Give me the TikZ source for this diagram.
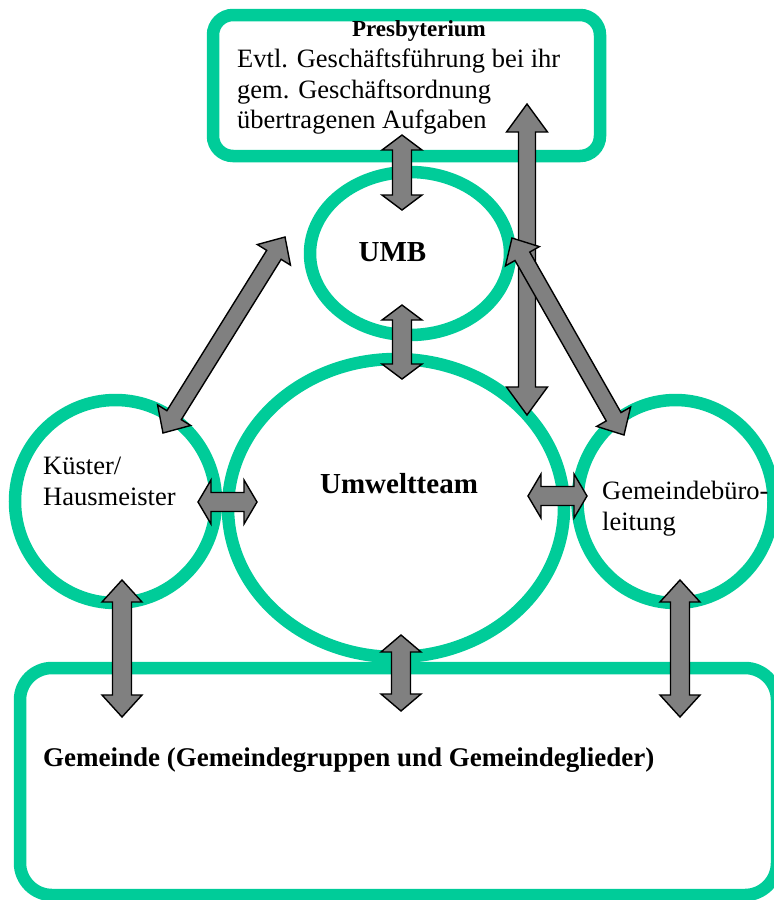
\documentclass[tikz,border=0pt]{standalone}
\usepackage{fontspec}
\setmainfont{Liberation Serif}
\usetikzlibrary{calc,shapes.geometric}
\definecolor{teamgreen}{RGB}{0,204,153}
\definecolor{arrgray}{RGB}{128,128,128}
\tikzset{
  greenline/.style={draw=teamgreen, line width=12.5pt},
  circ/.style={greenline, ellipse, inner sep=0pt, outer sep=0pt},
  roundbox/.style={greenline, rectangle, inner sep=0pt, outer sep=0pt},
  blockarrow/.style={fill=arrgray, draw=black, line width=1.4pt, line join=miter},
  txt/.style={inner sep=0pt, font=\fontsize{26.5}{30.5}\selectfont},
  btxt/.style={inner sep=0pt, font=\bfseries\fontsize{29}{33}\selectfont},
  ttxt/.style={inner sep=0pt, font=\bfseries\fontsize{23}{27}\selectfont},
  gtxt/.style={inner sep=0pt, font=\bfseries\fontsize{27}{31}\selectfont},
}
% #1 start, #2 end, #3 half shaft, #4 half head, #5 head length
\newcommand{\blockarr}[5]{%
  \draw[blockarrow]
    (#1)
    -- ($($(#1)!#5!(#2)$)!#4!90:(#2)$)
    -- ($($(#1)!#5!(#2)$)!#3!90:(#2)$)
    -- ($($(#2)!#5!(#1)$)!#3!-90:(#1)$)
    -- ($($(#2)!#5!(#1)$)!#4!-90:(#1)$)
    -- (#2)
    -- ($($(#2)!#5!(#1)$)!#4!90:(#1)$)
    -- ($($(#2)!#5!(#1)$)!#3!90:(#1)$)
    -- ($($(#1)!#5!(#2)$)!#3!-90:(#2)$)
    -- ($($(#1)!#5!(#2)$)!#4!-90:(#2)$)
    -- cycle;}
\begin{document}
\begin{tikzpicture}[x=1pt,y=-1pt]
\useasboundingbox (0,0) rectangle (774,900);
\clip (0,0) rectangle (774,900);

% green shapes
\node[roundbox, rounded corners=20pt, minimum width=387pt, minimum height=141pt] (presb) at (406.5,85.5) {};
\node[roundbox, rounded corners=32pt, minimum width=757pt, minimum height=227pt] (gem) at (398.5,781.5) {};
\node[circ, minimum width=200pt, minimum height=163pt] (umb) at (410,253.5) {};
\node[circ, minimum width=336pt, minimum height=298pt] (team) at (396,508) {};
\node[circ, minimum width=201pt, minimum height=203pt] (kuester) at (115.5,501.5) {};
\node[circ, minimum width=196pt, minimum height=203pt] (buero) at (675.5,501.5) {};

% texts
\node[ttxt, anchor=base] (presbtitle) at (419,36.7) {Presbyterium};
\node[txt, anchor=base west] (presbl1) at (237,67.3) {Evtl. Geschäftsführung bei ihr};
\node[txt, anchor=base west] (presbl2) at (237,98) {gem. Geschäftsordnung};
\node[txt, anchor=base west] (presbl3) at (237,128.5) {übertragenen Aufgaben};
\node[btxt, anchor=base] (umbtext) at (392.5,261) {UMB};
\node[btxt, anchor=base] (teamtext) at (399,493) {Umweltteam};
\node[txt, anchor=base west] (kuest1) at (43,474.5) {Küster/};
\node[txt, anchor=base west] (kuest2) at (43,505) {Hausmeister};
\node[txt, anchor=base west] (buero1) at (602,499) {Gemeindebüro-};
\node[txt, anchor=base west] (buero2) at (602,530) {leitung};
\node[gtxt, anchor=base west] (gemtext) at (43,766.7) {Gemeinde (Gemeindegruppen und Gemeindeglieder)};

% arrow end points
\coordinate (a1s) at (402,135);  \coordinate (a1e) at (402,210);
\coordinate (a2s) at (402,305);  \coordinate (a2e) at (402,379);
\coordinate (a3s) at (527,104);  \coordinate (a3e) at (527,415);
\coordinate (a4s) at (163,433);  \coordinate (a4e) at (285,237);
\coordinate (a5s) at (624,435);  \coordinate (a5e) at (512,238);
\coordinate (a6s) at (198,502);  \coordinate (a6e) at (257,502);
\coordinate (a7s) at (528,496);  \coordinate (a7e) at (587,496);
\coordinate (a8s) at (122,580);  \coordinate (a8e) at (122,717);
\coordinate (a9s) at (401,635);  \coordinate (a9e) at (401,711);
\coordinate (a10s) at (680,580); \coordinate (a10e) at (680,717);

% block arrows
\blockarr{a1s}{a1e}{9.5pt}{20pt}{15pt}
\blockarr{a2s}{a2e}{9.5pt}{20pt}{15pt}
\blockarr{a3s}{a3e}{8.5pt}{20.5pt}{28pt}
\blockarr{a4s}{a4e}{8.5pt}{19.5pt}{21pt}
\blockarr{a5s}{a5e}{8.5pt}{19.5pt}{21pt}
\blockarr{a6s}{a6e}{9.5pt}{22pt}{13pt}
\blockarr{a7s}{a7e}{9.5pt}{22pt}{13pt}
\blockarr{a8s}{a8e}{9.5pt}{20pt}{22pt}
\blockarr{a9s}{a9e}{9.5pt}{20pt}{17pt}
\blockarr{a10s}{a10e}{9.5pt}{20pt}{22pt}
\end{tikzpicture}
\end{document}
